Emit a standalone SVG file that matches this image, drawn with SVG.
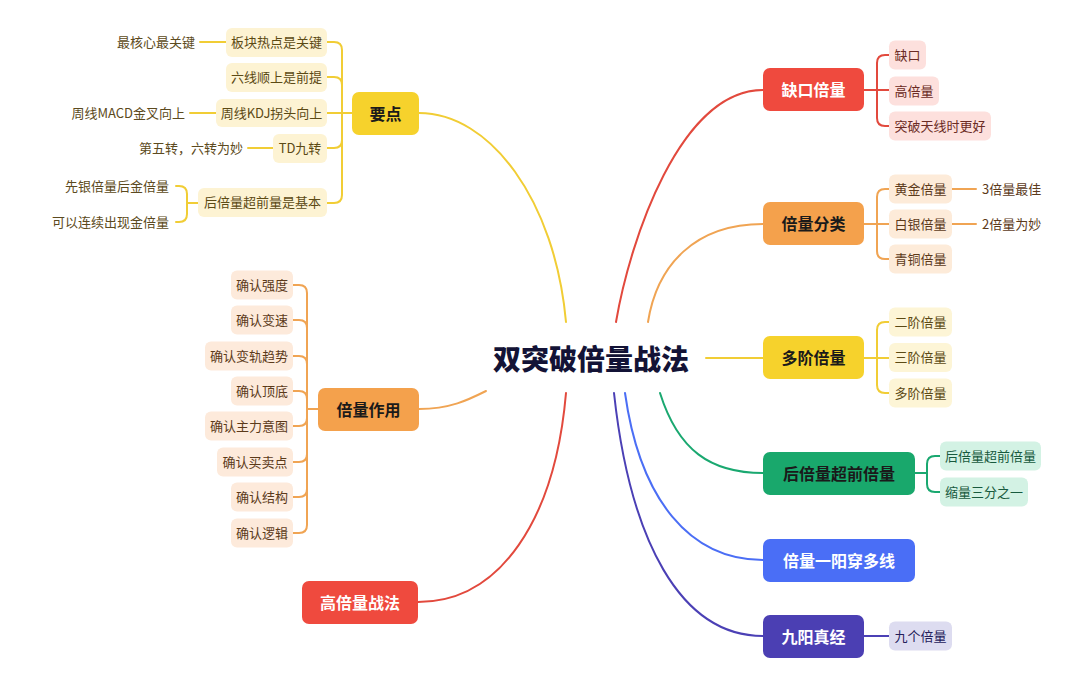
<svg xmlns="http://www.w3.org/2000/svg" width="1080" height="686" viewBox="0 0 1080 686">
<style>
text{font-family:"Noto Sans CJK SC","Noto Sans",sans-serif;}
.c{fill:none;stroke-width:2;stroke-linecap:round;}
.main{font-size:16px;font-weight:700;text-anchor:middle;}
.sub{font-size:13px;text-anchor:middle;}
.gl{font-size:13px;text-anchor:end;}
.gr{font-size:13px;text-anchor:start;}
.y{stroke:#f1cd35;} .o{stroke:#f0a453;} .r{stroke:#e2493d;} .g{stroke:#1aa870;} .b{stroke:#4b6ef5;} .p{stroke:#4b40b5;}
</style>
<rect width="1080" height="686" fill="#ffffff"/>
<g id="connectors">
  <path class="c y" d="M419,113 C490,113 555,200 566,322"/>
  <path class="c o" d="M419,409 C450,409 468,400 486,391"/>
  <path class="c r" d="M418,602 C500,602 555,520 566,393"/>
  <path class="c r" d="M616,322 C630,240 680,90 763,90"/>
  <path class="c o" d="M648,322 C657,265 695,224 763,224"/>
  <path class="c y" d="M706,358 L763,358"/>
  <path class="c g" d="M660,393 C678,450 710,473 763,473"/>
  <path class="c b" d="M625,393 C640,500 690,560 763,560"/>
  <path class="c p" d="M614,393 C630,540 680,636 763,636"/>
  <path class="c y" d="M352,113 H342 M342,113 V50 Q342,42 334,42 H327 M342,113 V85 Q342,77 334,77 H327 M342,113 H327 M342,113 V140 Q342,148 334,148 H327 M342,113 V195 Q342,203 334,203 H327"/>
  <path class="c y" d="M200,42 H226 M190,113 H216 M248,148 H273"/>
  <path class="c y" d="M198,203 H187 M187,203 V194 Q187,186 179,186 H176 M187,203 V214 Q187,222 179,222 H176"/>
  <path class="c o" d="M318,409 H307 M307,409 V293 Q307,285 299,285 H293 M307,409 V328 Q307,320 299,320 H293 M307,409 V364 Q307,356 299,356 H293 M307,409 V399 Q307,391 299,391 H293 M307,409 V418 Q307,426 299,426 H293 M307,409 V454 Q307,462 299,462 H293 M307,409 V489 Q307,497 299,497 H293 M307,409 V525 Q307,533 299,533 H293"/>
  <path class="c r" d="M864,90 H877 M877,90 V63 Q877,55 885,55 H889 M877,90 H889 M877,90 V118 Q877,126 885,126 H889"/>
  <path class="c o" d="M864,224 H877 M877,224 V197 Q877,189 885,189 H889 M877,224 H889 M877,224 V251 Q877,259 885,259 H889"/>
  <path class="c o" d="M952,189 H976 M952,224 H976"/>
  <path class="c y" d="M864,358 H877 M877,358 V330 Q877,322 885,322 H889 M877,358 H889 M877,358 V385 Q877,393 885,393 H889"/>
  <path class="c g" d="M915,473 H927 M927,473 V464 Q927,456 935,456 H940 M927,473 V484 Q927,492 935,492 H940"/>
  <path class="c p" d="M864,636 H889"/>
</g>
<g id="center">
  <text x="591" y="370" font-size="28" font-weight="900" text-anchor="middle" fill="#131336">双突破倍量战法</text>
</g>
<g id="n-yaodian">
  <rect x="352" y="92" width="67" height="43" rx="7" fill="#f6d22c"/>
  <text class="main" x="385.5" y="119.5" fill="#1a1a1a">要点</text>
</g>
<g id="n-yaodian-children">
  <rect x="226" y="28" width="101" height="29" rx="6" fill="#fdf3d3"/>
  <text class="sub" x="276.5" y="47.2" fill="#5c4a14">板块热点是关键</text>
  <rect x="226" y="63" width="101" height="29" rx="6" fill="#fdf3d3"/>
  <text class="sub" x="276.5" y="82.2" fill="#5c4a14">六线顺上是前提</text>
  <rect x="216" y="99" width="111" height="28" rx="6" fill="#fdf3d3"/>
  <text class="sub" x="271.5" y="117.7" fill="#5c4a14">周线KDJ拐头向上</text>
  <rect x="273" y="134" width="54" height="29" rx="6" fill="#fdf3d3"/>
  <text class="sub" x="300" y="153.2" fill="#5c4a14">TD九转</text>
  <rect x="198" y="188" width="129" height="29" rx="6" fill="#fdf3d3"/>
  <text class="sub" x="262.5" y="207.2" fill="#5c4a14">后倍量超前量是基本</text>
  <text class="gl" x="195" y="46.7" fill="#5c4a20">最核心最关键</text>
  <text class="gl" x="185" y="117.7" fill="#5c4a20">周线MACD金叉向上</text>
  <text class="gl" x="243" y="152.7" fill="#5c4a20">第五转，六转为妙</text>
  <text class="gl" x="169" y="190.7" fill="#5c4a20">先银倍量后金倍量</text>
  <text class="gl" x="169" y="226.7" fill="#5c4a20">可以连续出现金倍量</text>
</g>
<g id="n-zuoyong">
  <rect x="318" y="388" width="101" height="43" rx="7" fill="#f4a14c"/>
  <text class="main" x="368.5" y="415.5" fill="#1a1a1a">倍量作用</text>
</g>
<g id="n-zuoyong-children">
  <rect x="231" y="270.5" width="62" height="29" rx="6" fill="#fdeadb"/>
  <text class="sub" x="262" y="289.7" fill="#5c3a1a">确认强度</text>
  <rect x="231" y="305.5" width="62" height="29" rx="6" fill="#fdeadb"/>
  <text class="sub" x="262" y="324.7" fill="#5c3a1a">确认变速</text>
  <rect x="205" y="341.5" width="88" height="29" rx="6" fill="#fdeadb"/>
  <text class="sub" x="249" y="360.7" fill="#5c3a1a">确认变轨趋势</text>
  <rect x="231" y="376.5" width="62" height="29" rx="6" fill="#fdeadb"/>
  <text class="sub" x="262" y="395.7" fill="#5c3a1a">确认顶底</text>
  <rect x="205" y="411.5" width="88" height="29" rx="6" fill="#fdeadb"/>
  <text class="sub" x="249" y="430.7" fill="#5c3a1a">确认主力意图</text>
  <rect x="217" y="447.5" width="76" height="29" rx="6" fill="#fdeadb"/>
  <text class="sub" x="255" y="466.7" fill="#5c3a1a">确认买卖点</text>
  <rect x="231" y="482.5" width="62" height="29" rx="6" fill="#fdeadb"/>
  <text class="sub" x="262" y="501.7" fill="#5c3a1a">确认结构</text>
  <rect x="231" y="518.5" width="62" height="29" rx="6" fill="#fdeadb"/>
  <text class="sub" x="262" y="537.7" fill="#5c3a1a">确认逻辑</text>
</g>
<g id="n-gaobei">
  <rect x="302" y="581" width="116" height="43" rx="7" fill="#ef4a3e"/>
  <text class="main" x="360" y="608.5" fill="#ffffff">高倍量战法</text>
</g>
<g id="n-quekou">
  <rect x="763" y="68" width="101" height="43" rx="7" fill="#ef4a3e"/>
  <text class="main" x="813.5" y="95.5" fill="#ffffff">缺口倍量</text>
  <rect x="889" y="40.5" width="37" height="29" rx="6" fill="#fde0dd"/>
  <text class="sub" x="907.5" y="59.7" fill="#6b2b24">缺口</text>
  <rect x="889" y="76.5" width="50" height="29" rx="6" fill="#fde0dd"/>
  <text class="sub" x="914" y="95.7" fill="#6b2b24">高倍量</text>
  <rect x="889" y="111.5" width="102" height="29" rx="6" fill="#fde0dd"/>
  <text class="sub" x="940" y="130.7" fill="#6b2b24">突破天线时更好</text>
</g>
<g id="n-fenlei">
  <rect x="763" y="202" width="101" height="43" rx="7" fill="#f4a14c"/>
  <text class="main" x="813.5" y="229.5" fill="#1a1a1a">倍量分类</text>
  <rect x="889" y="174.5" width="63" height="29" rx="6" fill="#fdebd9"/>
  <text class="sub" x="920.5" y="193.7" fill="#5c3a1a">黄金倍量</text>
  <rect x="889" y="209.5" width="63" height="29" rx="6" fill="#fdebd9"/>
  <text class="sub" x="920.5" y="228.7" fill="#5c3a1a">白银倍量</text>
  <rect x="889" y="244.5" width="63" height="29" rx="6" fill="#fdebd9"/>
  <text class="sub" x="920.5" y="263.7" fill="#5c3a1a">青铜倍量</text>
  <text class="gr" x="982" y="193.7" fill="#5c3a1a">3倍量最佳</text>
  <text class="gr" x="982" y="228.7" fill="#5c3a1a">2倍量为妙</text>
</g>
<g id="n-duojie">
  <rect x="763" y="336" width="101" height="43" rx="7" fill="#f6d22c"/>
  <text class="main" x="813.5" y="363.5" fill="#1a1a1a">多阶倍量</text>
  <rect x="889" y="307.5" width="63" height="29" rx="6" fill="#fdf5d6"/>
  <text class="sub" x="920.5" y="326.7" fill="#5c4a14">二阶倍量</text>
  <rect x="889" y="343" width="63" height="29" rx="6" fill="#fdf5d6"/>
  <text class="sub" x="920.5" y="362.2" fill="#5c4a14">三阶倍量</text>
  <rect x="889" y="378.5" width="63" height="29" rx="6" fill="#fdf5d6"/>
  <text class="sub" x="920.5" y="397.7" fill="#5c4a14">多阶倍量</text>
</g>
<g id="n-houbei">
  <rect x="763" y="452" width="152" height="43" rx="7" fill="#19a86c"/>
  <text class="main" x="839" y="479.5" fill="#1a1a1a">后倍量超前倍量</text>
  <rect x="940" y="441.5" width="101" height="29" rx="6" fill="#d3f2e4"/>
  <text class="sub" x="990.5" y="460.7" fill="#185a3e">后倍量超前倍量</text>
  <rect x="940" y="477.5" width="88" height="29" rx="6" fill="#d3f2e4"/>
  <text class="sub" x="984" y="496.7" fill="#185a3e">缩量三分之一</text>
</g>
<g id="n-yiyang">
  <rect x="763" y="539" width="152" height="43" rx="7" fill="#4a6ef6"/>
  <text class="main" x="839" y="566.5" fill="#ffffff">倍量一阳穿多线</text>
</g>
<g id="n-jiuyang">
  <rect x="763" y="615" width="101" height="43" rx="7" fill="#4b3fb3"/>
  <text class="main" x="813.5" y="642.5" fill="#ffffff">九阳真经</text>
  <rect x="889" y="621.5" width="63" height="29" rx="6" fill="#dddcf0"/>
  <text class="sub" x="920.5" y="640.7" fill="#24205a">九个倍量</text>
</g>
</svg>
